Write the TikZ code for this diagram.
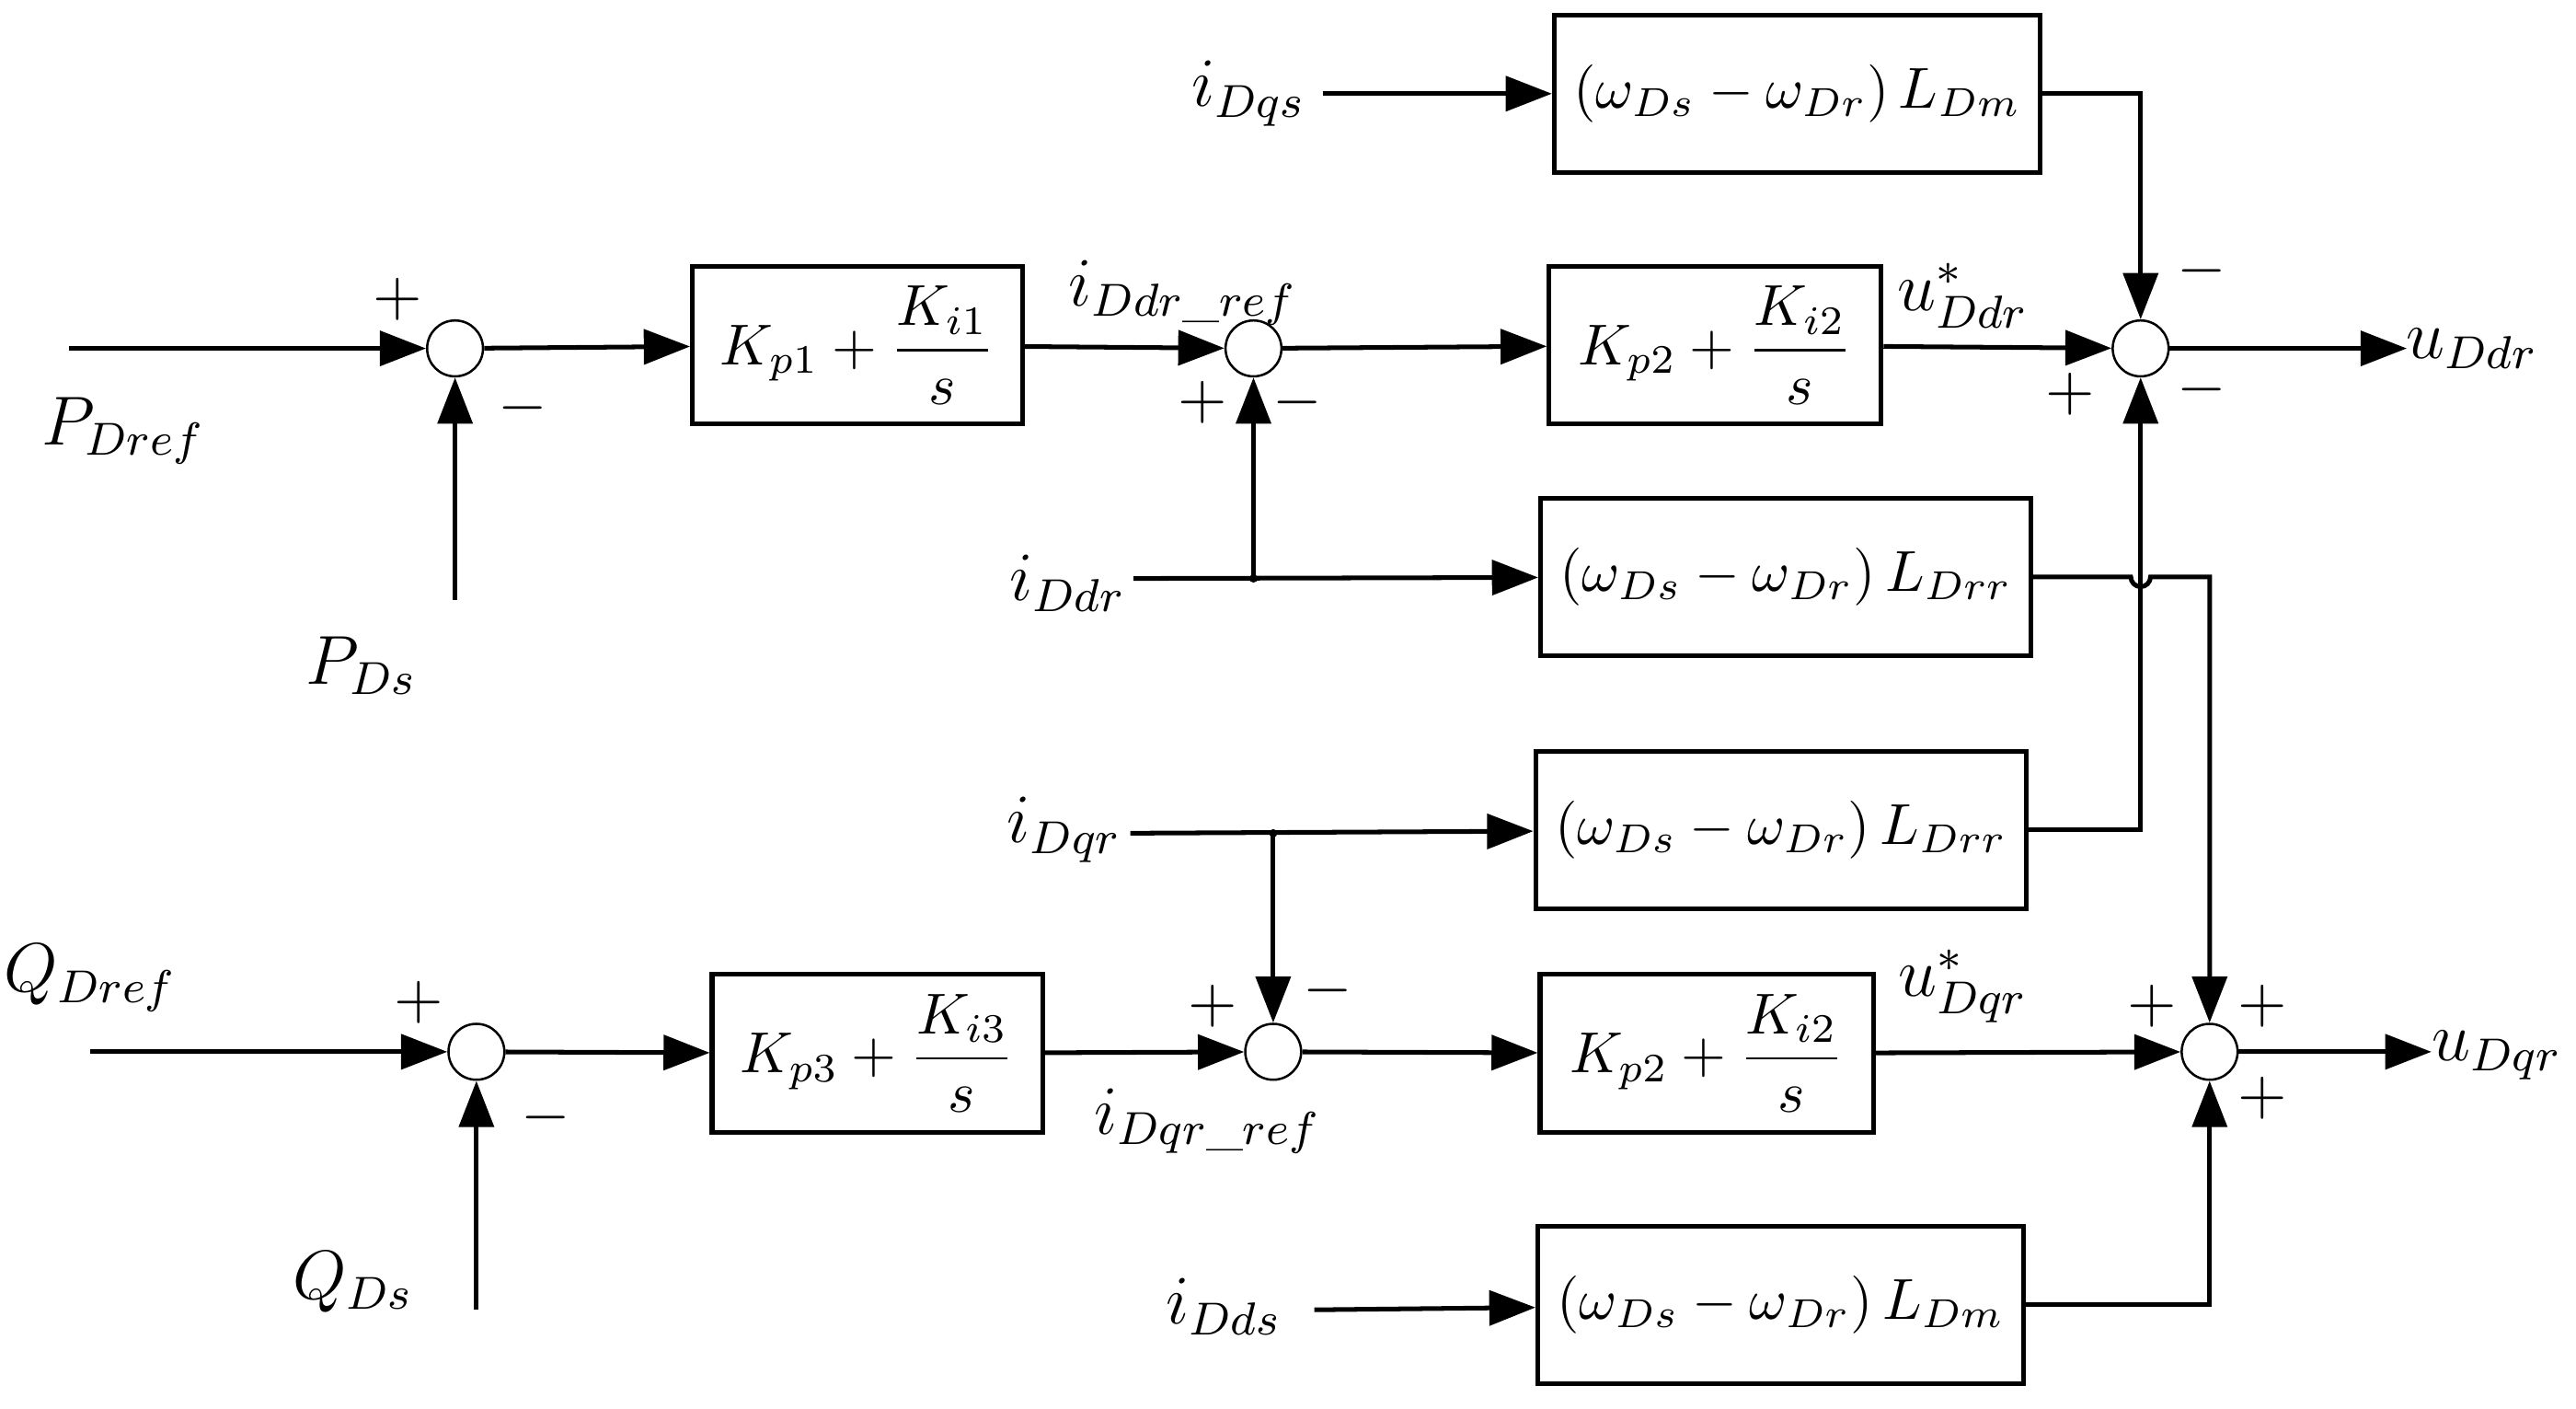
\documentclass[tikz,border=0pt]{standalone}
\usepackage{amsmath}
\usetikzlibrary{arrows.meta}
\begin{document}
\begin{tikzpicture}[x=0.01cm,y=-0.01cm,
 blk/.style={draw,thick,minimum height=0.96cm,font=\fontsize{10}{12}\selectfont},
 sum/.style={draw,circle,minimum size=0.34cm,inner sep=0pt},
 ln/.style={thick},
 ar/.style={thick,-{Triangle[length=8pt,width=6pt]}},
 lab/.style={font=\fontsize{12}{14}\selectfont},
 sg/.style={font=\fontsize{11}{12}\selectfont}]
\useasboundingbox (0,0) rectangle (1568,857);
% sums
\node[sum] (s1) at (277,212) {};
\node[sum] (s2) at (763,212) {};
\node[sum] (s3) at (1303,212) {};
\node[sum] (s4) at (290,640) {};
\node[sum] (s5) at (775,640) {};
\node[sum] (s6) at (1345,640) {};
% blocks
\node[blk,minimum width=2.01cm] (b1) at (522,210) {$K_{p1}+\dfrac{K_{i1}}{s}$};
\node[blk,minimum width=2.02cm] (b2) at (1044,210) {$K_{p2}+\dfrac{K_{i2}}{s}$};
\node[blk,minimum width=2.88cm] (bt) at (1094,57) {$\left(\omega_{Ds}-\omega_{Dr}\right)L_{Dm}$};
\node[blk,minimum width=2.88cm] (bl1) at (1087,351) {$\left(\omega_{Ds}-\omega_{Dr}\right)L_{Drr}$};
\node[blk,minimum width=2.93cm] (bl2) at (1084,505) {$\left(\omega_{Ds}-\omega_{Dr}\right)L_{Drr}$};
\node[blk,minimum width=2.01cm] (b3) at (534,641) {$K_{p3}+\dfrac{K_{i3}}{s}$};
\node[blk,minimum width=2.03cm] (b4) at (1039,641) {$K_{p2}+\dfrac{K_{i2}}{s}$};
\node[blk,minimum width=2.93cm] (bb) at (1084,794) {$\left(\omega_{Ds}-\omega_{Dr}\right)L_{Dm}$};
% labels / coordinates
\coordinate (pin) at (42,212);
\node[lab] (lP) at (75,262) {$P_{Dref}$};
\coordinate (pds) at (277,365);
\node[lab] (lPs) at (220,405) {$P_{Ds}$};
\node[lab] (lir) at (720,178) {$i_{Ddr\_ref}$};
\node[lab] (lidr) at (650,355) {$i_{Ddr}$};
\coordinate (idr) at (690,352);
\coordinate (j1) at (763,352);
\node[lab] (lus) at (1195,180) {$u^{*}_{Ddr}$};
\coordinate (uo) at (1465,212);
\node[lab] (luo) at (1505,212) {$u_{Ddr}$};
\node[lab] (liqs) at (760,57) {$i_{Dqs}$};
\coordinate (iqs) at (805,57);
\node[lab] (liqr) at (648,505) {$i_{Dqr}$};
\coordinate (iqr) at (688,507);
\coordinate (j2) at (775,507);
\node[lab] (lQ) at (55,595) {$Q_{Dref}$};
\coordinate (qin) at (55,640);
\coordinate (qds) at (290,797);
\node[lab] (lQs) at (215,780) {$Q_{Ds}$};
\node[lab] (liqref) at (735,682) {$i_{Dqr\_ref}$};
\node[lab] (luq) at (1195,600) {$u^{*}_{Dqr}$};
\coordinate (uq) at (1480,640);
\node[lab] (luqo) at (1520,642) {$u_{Dqr}$};
\node[lab] (lids) at (745,795) {$i_{Dds}$};
\coordinate (ids) at (800,797);
% signs
\node[sg] at (242,182) {$+$}; \node[sg] at (318,248) {$-$};
\node[sg] at (732,245) {$+$}; \node[sg] at (790,245) {$-$};
\node[sg] at (1260,240) {$+$}; \node[sg] at (1340,165) {$-$}; \node[sg] at (1340,237) {$-$};
\node[sg] at (255,610) {$+$}; \node[sg] at (332,680) {$-$};
\node[sg] at (738,612) {$+$}; \node[sg] at (808,603) {$-$};
\node[sg] at (1310,612) {$+$}; \node[sg] at (1377,612) {$+$}; \node[sg] at (1377,668) {$+$};
% connections
\draw[ar] (pin) -- (s1);
\draw[ar] (pds) -- (s1);
\draw[ar] (s1) -- (b1);
\draw[ar] (b1) -- (s2);
\draw[ar] (s2) -- (b2);
\draw[ar] (b2) -- (s3);
\draw[ar] (s3) -- (uo);
\draw[ar] (idr) -- (bl1);
\draw[ar] (j1) -- (s2);
\fill (j1) circle (2.5);
\draw[ar] (iqs) -- (bt);
\draw[ar] (bt.east) -| (s3);
\draw[ar] (iqr) -- (bl2);
\draw[ar] (j2) -- (s5);
\fill (j2) circle (2.5);
\draw[ar] (bl2.east) -| (s3);
\draw[ar] (bl1.east) -- (1297,351) arc[start angle=180,end angle=0,radius=6] -- (1345,351) -- (s6);
\draw[ar] (qin) -- (s4);
\draw[ar] (qds) -- (s4);
\draw[ar] (s4) -- (b3);
\draw[ar] (b3) -- (s5);
\draw[ar] (s5) -- (b4);
\draw[ar] (b4) -- (s6);
\draw[ar] (s6) -- (uq);
\draw[ar] (ids) -- (bb);
\draw[ar] (bb.east) -| (s6);
\end{tikzpicture}
\end{document}
